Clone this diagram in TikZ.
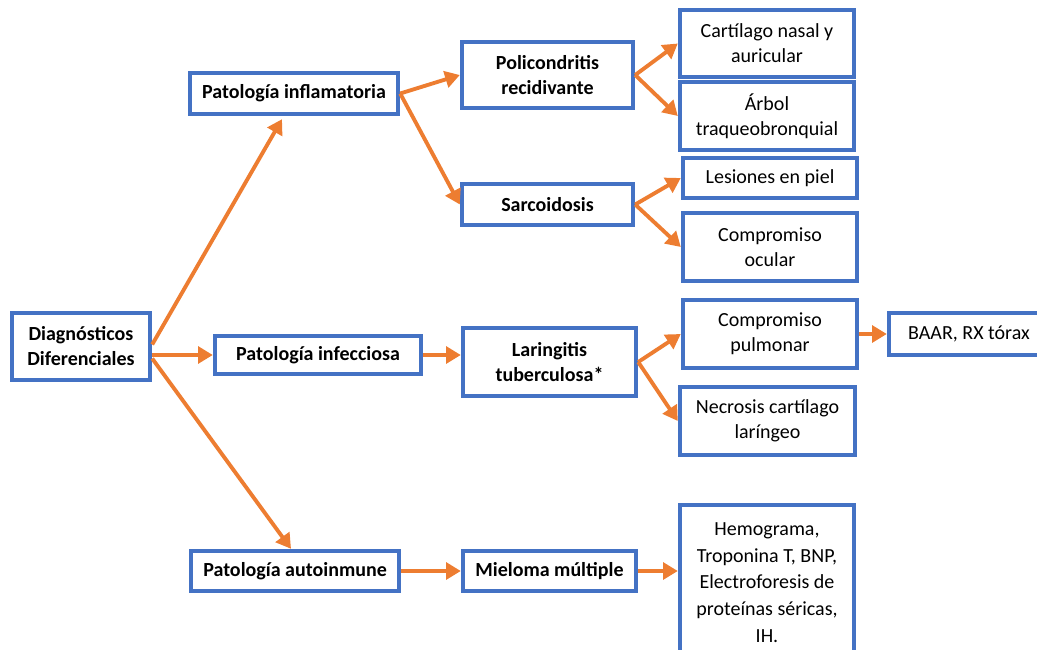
\documentclass[tikz,border=0pt]{standalone}
\usepackage{fontspec}
\setmainfont{Carlito}
\usetikzlibrary{arrows.meta,calc}
\definecolor{boxblue}{HTML}{4472C4}
\definecolor{arrorange}{HTML}{ED7D31}
\tikzset{
  bx/.style={draw=boxblue, line width=3.3pt, fill=white, align=center, inner sep=0pt,
    font=\fontsize{15}{18.75}\selectfont},
  bb/.style={bx, font=\fontsize{15}{18.75}\selectfont\bfseries},
  arr/.style={draw=arrorange, line width=2.9pt, -{Triangle[length=11pt,width=12.5pt]}}
}
\begin{document}
\begin{tikzpicture}[x=0.75pt,y=-0.75pt]
\useasboundingbox (0,0) rectangle (1037,649);
\clip (0,0) rectangle (1037,649);
% level 0
\node[bb, minimum width=138*0.75pt, minimum height=67*0.75pt] (diag) at (81,346.5) {Diagnósticos\\Diferenciales};
% level 1
\node[bb, minimum width=208*0.75pt, minimum height=41*0.75pt] (infl) at (294,93.5) {Patología inflamatoria};
\node[bb, minimum width=206*0.75pt, minimum height=38*0.75pt] (infe) at (318,355) {Patología infecciosa};
\node[bb, minimum width=208*0.75pt, minimum height=40*0.75pt] (auto) at (295,571) {Patología autoinmune};
% level 2
\node[bb, minimum width=171*0.75pt, minimum height=66*0.75pt] (poli) at (547.5,75) {Policondritis\\recidivante};
\node[bb, minimum width=171*0.75pt, minimum height=41*0.75pt] (sarc) at (547.5,204.5) {Sarcoidosis};
\node[bb, minimum width=173*0.75pt, minimum height=68*0.75pt] (lari) at (549.5,362) {Laringitis\\tuberculosa*};
\node[bb, minimum width=173*0.75pt, minimum height=40*0.75pt] (miel) at (549.5,571) {Mieloma múltiple};
% level 3
\node[bx, minimum width=174*0.75pt, minimum height=67*0.75pt] (cart) at (767,43.5) {Cartílago nasal y\\auricular};
\node[bx, minimum width=174*0.75pt, minimum height=68*0.75pt] (arbo) at (767,116) {Árbol\\traqueobronquial};
\node[bx, minimum width=174*0.75pt, minimum height=40*0.75pt] (lesi) at (770,178) {Lesiones en piel};
\node[bx, minimum width=174*0.75pt, minimum height=68*0.75pt] (ocul) at (770,247) {Compromiso\\ocular};
\node[bx, minimum width=174*0.75pt, minimum height=68*0.75pt] (pulm) at (770,334) {Compromiso\\pulmonar};
\node[bx, minimum width=175*0.75pt, minimum height=68*0.75pt] (necr) at (767.5,421) {Necrosis cartílago\\laríngeo};
\node[bx, minimum width=174*0.75pt, minimum height=155*0.75pt, font=\fontsize{15}{20}\selectfont] (hemo) at (767,582.5) {Hemograma,\\Troponina T, BNP,\\Electroforesis de\\proteínas séricas,\\IH.};
% level 4
\node[bx, minimum width=160*0.75pt, minimum height=42*0.75pt] (baar) at (969,334) {BAAR, RX tórax};
% arrows
\draw[arr] ($(diag.east)+(0,-2)$) -- ($(infl.south)+(-12,3)$);
\draw[arr] (diag.east |- infe.west) -- (infe.west);
\draw[arr] ($(diag.east)+(0,12)$) -- ($(auto.north)+(-4,0)$);
\draw[arr] (infl.east) -- (poli.west);
\draw[arr] (infl.east) -- (sarc.west);
\draw[arr] (poli.east) -- (cart.west);
\draw[arr] (poli.east) -- (arbo.west);
\draw[arr] (sarc.east) -- (lesi.west);
\draw[arr] (sarc.east) -- (ocul.west);
\draw[arr] (infe.east) -- (infe.east -| lari.west);
\draw[arr] (lari.east) -- (pulm.west);
\draw[arr] (lari.east) -- (necr.west);
\draw[arr] (pulm.east) -- (baar.west);
\draw[arr] (auto.east) -- (miel.west);
\draw[arr] (miel.east) -- (miel.east -| hemo.west);
\end{tikzpicture}
\end{document}
